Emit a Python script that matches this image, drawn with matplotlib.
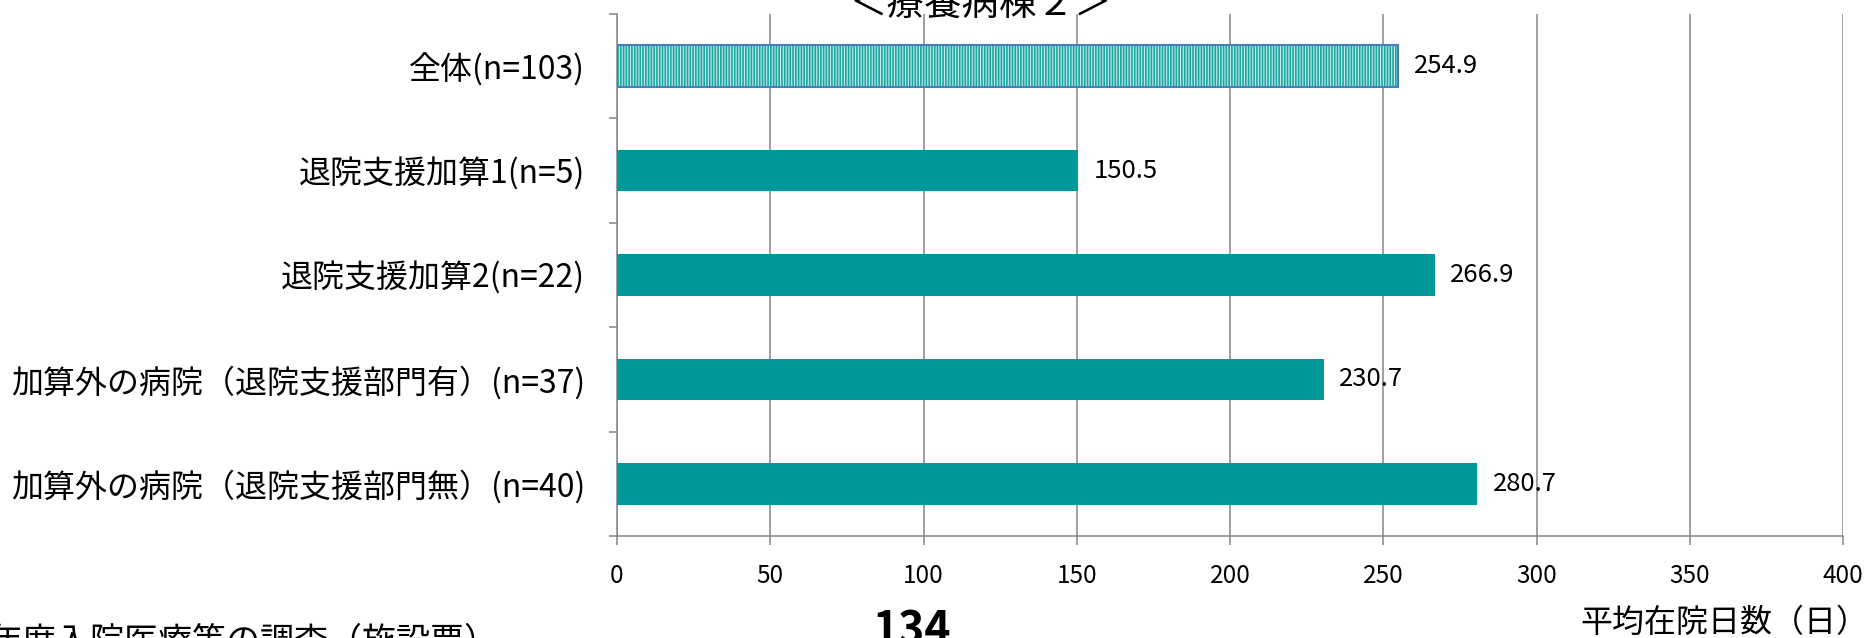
import matplotlib
matplotlib.use("Agg")
import matplotlib.pyplot as plt

plt.rcParams['font.family'] = ['Noto Sans CJK JP', 'DejaVu Sans']
plt.rcParams['hatch.linewidth'] = 1.2

# data
categories = ['全体(n=103)', '退院支援加算1(n=5)', '退院支援加算2(n=22)',
              '加算外の病院（退院支援部門有）(n=37)', '加算外の病院（退院支援部門無）(n=40)']
values = [254.9, 150.5, 266.9, 230.7, 280.7]
xticks = [0, 50, 100, 150, 200, 250, 300, 350, 400]

teal = '#009999'
grey = '#868686'

W, H = 1866, 638
fig = plt.figure(figsize=(W / 100, H / 100), dpi=100)
ax = fig.add_axes([617 / W, 1 - 536 / H, (1843 - 617) / W, (536 - 14) / H])

pos = list(range(len(categories)))

# first bar (全体) hatched, others solid
ax.barh(pos[0], values[0], height=0.4, color='#c6ebe8', edgecolor='#19a7a1',
        hatch='||||||', linewidth=0, zorder=3)
ax.barh(pos[0], values[0], height=0.4, fill=False, edgecolor='#4a7ebb',
        linewidth=1.5, zorder=4)
ax.barh(pos[1:], values[1:], height=0.4, color=teal, zorder=3)

for p, v in zip(pos, values):
    ax.annotate(f'{v:.1f}', xy=(v, p), xytext=(11, 0), textcoords='offset points',
                va='center', ha='left', fontsize=18.5)

ax.set_xlim(0, 400)
ax.set_ylim(len(categories) - 0.5, -0.5)
ax.set_xticks(xticks)
ax.set_yticks(pos)
ax.set_yticklabels(categories, fontsize=23)
ax.set_yticks([p - 0.5 for p in pos] + [pos[-1] + 0.5], minor=True)

ax.tick_params(axis='y', which='major', length=0, pad=23)
ax.tick_params(axis='y', which='minor', length=6, width=1.1, color=grey, direction='out')
ax.tick_params(axis='x', which='major', length=6.5, width=1.1, color=grey,
               direction='out', labelsize=17.5, pad=13)

ax.xaxis.grid(True, color=grey, linewidth=1.1, zorder=0)
ax.set_axisbelow(True)
for s in ['top', 'right']:
    ax.spines[s].set_visible(False)
for s in ['left', 'bottom']:
    ax.spines[s].set_color(grey)
    ax.spines[s].set_linewidth(1.1)

# texts around the plot (partly cut by the figure edge)
fig.text(980 / W, 1 - 16 / H, '＜療養病棟２＞', ha='center', va='baseline', fontsize=27)
fig.text(-12 / W, 1 - 652 / H, '年度入院医療等の調査（施設票）', ha='left', va='baseline',
         fontsize=24.5)
fig.text(912 / W, 1 - 645 / H, '134', ha='center', va='baseline', fontsize=32,
         fontweight='bold')
fig.text(1868 / W, 1 - 632 / H, '平均在院日数（日）', ha='right', va='baseline', fontsize=23)

fig.savefig('out.png', dpi=100, facecolor='white')
